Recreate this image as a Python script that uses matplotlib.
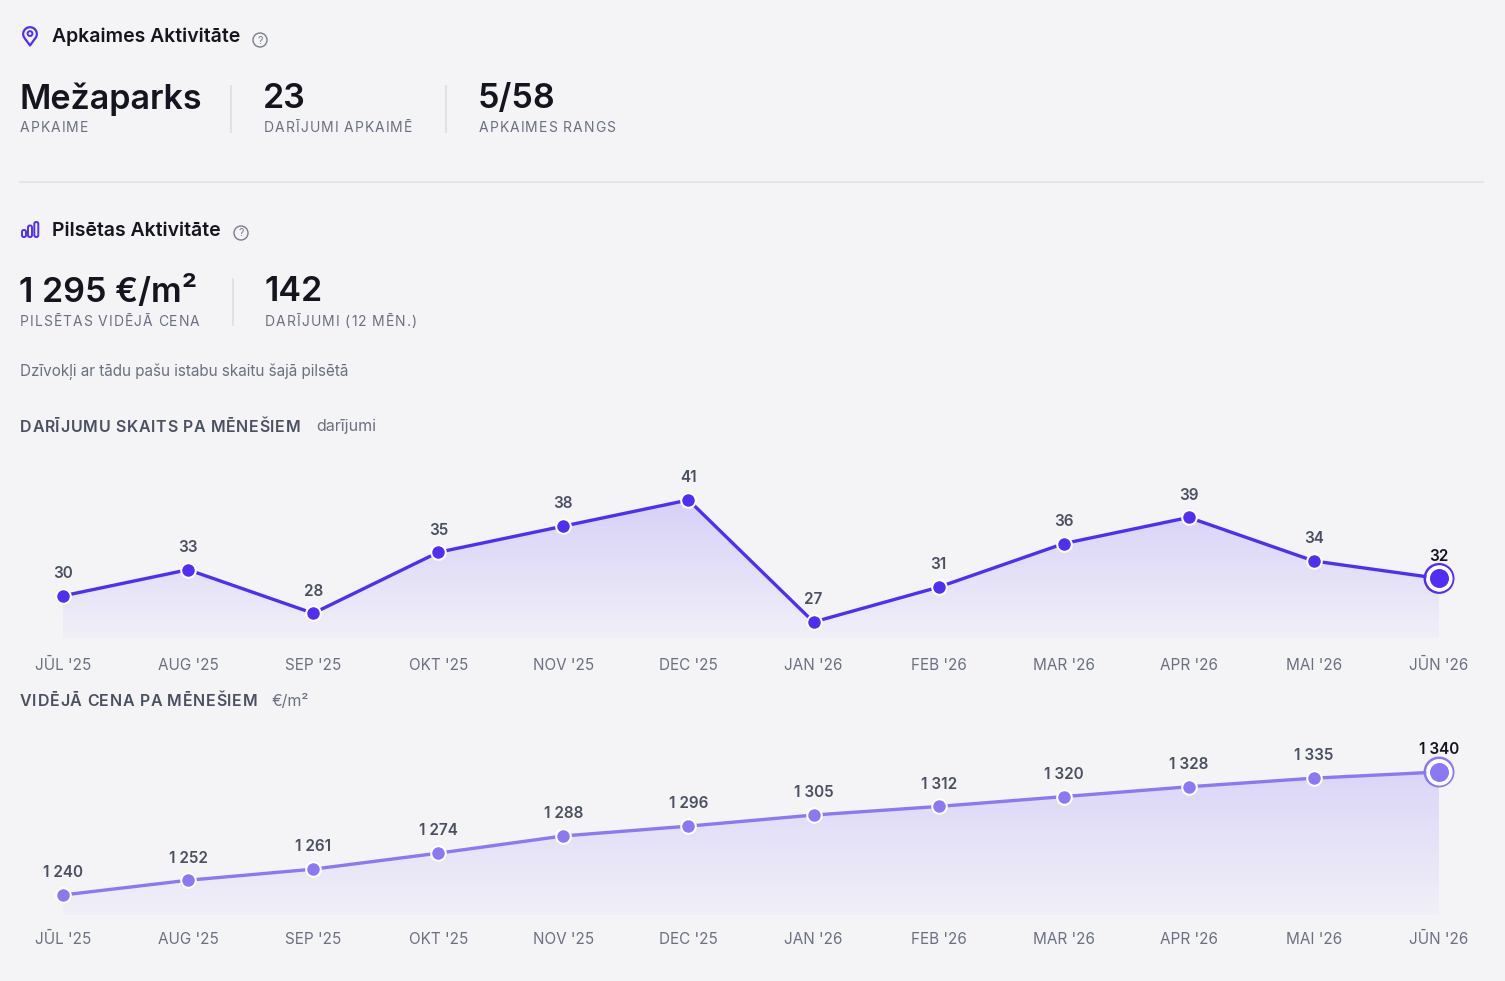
import numpy as np
import matplotlib
matplotlib.use("Agg")
import matplotlib.pyplot as plt
from matplotlib.patches import Circle, FancyBboxPatch, PathPatch
from matplotlib.path import Path

plt.rcParams['font.family'] = ['Inter', 'DejaVu Sans']

# data
months = ["JŪL '25", "AUG '25", "SEP '25", "OKT '25", "NOV '25", "DEC '25",
          "JAN '26", "FEB '26", "MAR '26", "APR '26", "MAI '26", "JŪN '26"]
deal_counts = [30, 33, 28, 35, 38, 41, 27, 31, 36, 39, 34, 32]
avg_prices = [1240, 1252, 1261, 1274, 1288, 1296, 1305, 1312, 1320, 1328, 1335, 1340]

stats_top = [("Mežaparks", "APKAIME"), ("23", "DARĪJUMI APKAIMĒ"), ("5/58", "APKAIMES RANGS")]
stats_city = [("1 295 €/m²", "PILSĒTAS VIDĒJĀ CENA"), ("142", "DARĪJUMI (12 MĒN.)")]

BG = "#f4f4f7"
DARK = "#15151f"
GRAY = "#6b7080"
ACCENT = "#4f2ff6"
W, H = 1505, 981

fig = plt.figure(figsize=(W / 100, H / 100), dpi=100, facecolor=BG)
bg = fig.add_axes([0, 0, 1, 1])
bg.set_xlim(0, W)
bg.set_ylim(H, 0)
bg.axis("off")
renderer = fig.canvas.get_renderer()


def text_width(s, **kw):
    tmp = bg.text(0, 0, s, **kw)
    w = tmp.get_window_extent(renderer).width
    tmp.remove()
    return w


def spaced(x, y, s, spacing, **kw):
    # text with letter spacing: each char goes after the measured prefix
    xw = text_width("x", **kw)
    for i, ch in enumerate(s):
        w = text_width(s[:i] + "x", **kw) - xw if i else 0
        bg.text(x + w + i * spacing, y, ch, va="center", **kw)


def qmark(x, y):
    bg.add_patch(Circle((x, y), 7, fill=False, ec="#7a7d8a", lw=1.0))
    bg.text(x, y + 0.5, "?", ha="center", va="center", fontsize=7.5, color="#7a7d8a")


# section 1 header: pin icon
cx, cy, r = 30, 34, 6.8
a = np.deg2rad(np.linspace(210, -30, 60))
pts = list(zip(cx + r * np.cos(a), cy - r * np.sin(a)))
pts.append((cx, 45.5))
pts.append(pts[0])
bg.add_patch(PathPatch(Path(pts), fill=False, ec=ACCENT, lw=1.6, joinstyle="round"))
bg.add_patch(Circle((cx, 33.6), 2.4, fill=False, ec=ACCENT, lw=1.4))
bg.text(52, 37, "Apkaimes Aktivitāte", fontsize=14, fontweight="semibold", color=DARK, va="center")
qmark(260, 40)

xs = [20, 264, 479]
for (val, lab), x in zip(stats_top, xs):
    bg.text(x - 1, 99, val, fontsize=24.5, fontweight="semibold", color=DARK, va="center")
    spaced(x, 128, lab, 1.0, fontsize=10, color=GRAY)
for sx in [231, 446]:
    bg.plot([sx, sx], [86, 132], color="#dcdce3", lw=1.2)

bg.plot([20, 1483], [182, 182], color="#e1e1e7", lw=1.2)

# section 2 header: bars icon
for bx, top in [(24, 230), (30, 225.5), (36.3, 222)]:
    bg.add_patch(FancyBboxPatch((bx - 2.0, top), 4.0, 237 - top,
                                boxstyle="round,pad=0,rounding_size=1.8",
                                fill=False, ec=ACCENT, lw=1.4))
bg.text(52, 231, "Pilsētas Aktivitāte", fontsize=14, fontweight="semibold", color=DARK, va="center")
qmark(241, 233)

xs = [20, 265]
for (val, lab), x in zip(stats_city, xs):
    bg.text(x - 1, 292, val, fontsize=24.5, fontweight="semibold", color=DARK, va="center")
    spaced(x, 322, lab, 1.0, fontsize=10, color=GRAY)
bg.plot([233, 233], [279, 325], color="#dcdce3", lw=1.2)

bg.text(20, 372, "Dzīvokļi ar tādu pašu istabu skaitu šajā pilsētā", fontsize=11,
        color=GRAY, va="center")

spaced(20, 427, "DARĪJUMU SKAITS PA MĒNEŠIEM", 0.7, fontsize=11.5,
       fontweight="semibold", color="#4b5060")
bg.text(316, 427, "darījumi", fontsize=11.5, color=GRAY, va="center")
spaced(20, 701, "VIDĒJĀ CENA PA MĒNEŠIEM", 0.7, fontsize=11.5,
       fontweight="semibold", color="#4b5060")
bg.text(272, 701, "€/m²", fontsize=11.5, color=GRAY, va="center")


def line_chart(max_px, min_px, base_px, values, color, fill_rgb, fmt, tick_pad):
    values = np.asarray(values, dtype=float)
    x = np.arange(len(values))
    vmin, vmax = values.min(), values.max()
    per_px = (vmax - vmin) / (min_px - max_px)
    ylo = vmin - (base_px - min_px) * per_px
    ax = fig.add_axes([63 / W, 1 - base_px / H, (1439 - 63) / W, (base_px - max_px) / H])
    ax.set_xlim(0, len(values) - 1)
    ax.set_ylim(ylo, vmax)
    ax.patch.set_alpha(0)
    for s in ax.spines.values():
        s.set_visible(False)
    ax.set_yticks([])
    ax.set_xticks(x)
    ax.set_xticklabels(months, fontsize=11, color=GRAY)
    ax.tick_params(axis="x", length=0, pad=tick_pad)

    # gradient fill under the line
    poly = ax.fill_between(x, values, ylo, color="none", lw=0)
    img = np.zeros((256, 1, 4))
    img[..., :3] = fill_rgb
    img[..., 3] = np.linspace(0.28, 0.04, 256).reshape(-1, 1)
    im = ax.imshow(img, extent=[0, len(values) - 1, ylo, vmax], aspect="auto",
                   origin="upper", zorder=1)
    im.set_clip_path(poly.get_paths()[0], transform=ax.transData)

    ax.plot(x, values, color=color, lw=2.4, zorder=3, clip_on=False, solid_capstyle="round")
    ax.scatter(x[:-1], values[:-1], s=110, color=color, edgecolors="white",
               linewidths=1.5, zorder=4, clip_on=False)
    # highlighted last point
    ax.scatter(x[-1:], values[-1:], s=420, facecolor="none", edgecolors=color,
               linewidths=1.8, zorder=4, clip_on=False)
    ax.scatter(x[-1:], values[-1:], s=320, color="white", zorder=4, clip_on=False)
    ax.scatter(x[-1:], values[-1:], s=160, color=color, zorder=5, clip_on=False)

    for i, v in enumerate(values):
        last = i == len(values) - 1
        ax.annotate(fmt(v), (i, v), xytext=(0, 16), textcoords="offset points",
                    ha="center", va="center", fontsize=11, fontweight="semibold",
                    color=DARK if last else "#4b5060", zorder=6, annotation_clip=False)
    return ax


line_chart(500, 622, 638, deal_counts, ACCENT, (0.55, 0.47, 0.97),
           lambda v: f"{int(v)}", 14.5)
line_chart(772, 895, 915, avg_prices, "#8b78f5", (0.60, 0.53, 0.97),
           lambda v: f"{int(v):,}".replace(",", " "), 12)

fig.savefig("out.png", dpi=100, facecolor=BG)
